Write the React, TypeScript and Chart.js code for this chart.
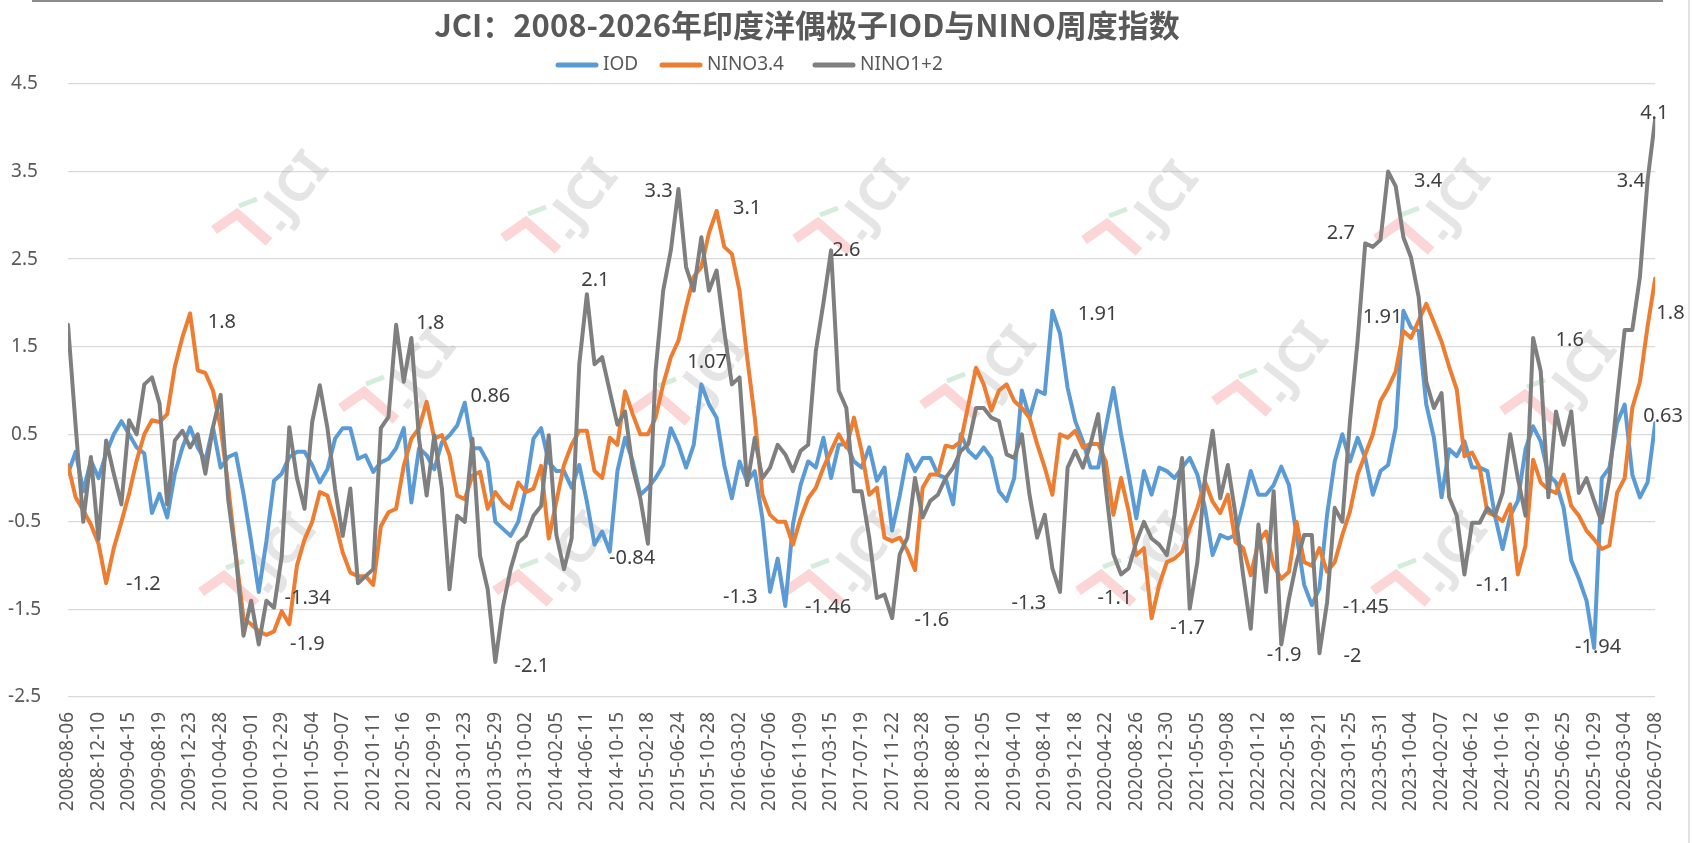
import React, { useEffect, useRef } from 'react';
import Chart from 'chart.js/auto';

// x axis: one tick every 18 weeks, values sampled 4 times per tick interval
const tickLabels = [
  '2008-08-06', '2008-12-10', '2009-04-15', '2009-08-19', '2009-12-23', '2010-04-28', '2010-09-01',
  '2010-12-29', '2011-05-04', '2011-09-07', '2012-01-11', '2012-05-16', '2012-09-19', '2013-01-23',
  '2013-05-29', '2013-10-02', '2014-02-05', '2014-06-11', '2014-10-15', '2015-02-18', '2015-06-24',
  '2015-10-28', '2016-03-02', '2016-07-06', '2016-11-09', '2017-03-15', '2017-07-19', '2017-11-22',
  '2018-03-28', '2018-08-01', '2018-12-05', '2019-04-10', '2019-08-14', '2019-12-18', '2020-04-22',
  '2020-08-26', '2020-12-30', '2021-05-05', '2021-09-08', '2022-01-12', '2022-05-18', '2022-09-21',
  '2023-01-25', '2023-05-31', '2023-10-04', '2024-02-07', '2024-06-12', '2024-10-16', '2025-02-19',
  '2025-06-25', '2025-10-29', '2026-03-04', '2026-07-08',
];
const SAMPLES_PER_TICK = 4;

const iod = [
  0.05, 0.3, -0.15, 0.2,   0.0, 0.28, 0.5, 0.65,   0.5, 0.35, 0.28, -0.4,   -0.18, -0.45, 0.05, 0.35,
  0.58, 0.35, 0.2, 0.58,   0.12, 0.24, 0.28, -0.18,   -0.72, -1.3, -0.72, -0.03,   0.05, 0.24, 0.3, 0.3,
  0.15, -0.05, 0.1, 0.45,   0.57, 0.57, 0.22, 0.26,   0.07, 0.18, 0.22, 0.34,   0.57, -0.28, 0.34, 0.26,
  0.1, 0.41, 0.49, 0.6,   0.86, 0.34, 0.34, 0.18,   -0.5, -0.58, -0.66, -0.5,   -0.12, 0.45, 0.57, 0.18,
  0.08, 0.08, -0.11, 0.15,   -0.27, -0.76, -0.61, -0.84,   0.08, 0.46, 0.19, -0.19,   -0.11, 0.0, 0.15, 0.57,
  0.38, 0.12, 0.38, 1.07,   0.84, 0.69, 0.15, -0.23,   0.19, -0.04, 0.08, -0.46,   -1.3, -0.92, -1.46, -0.53,
  -0.08, 0.19, 0.12, 0.46,   0.0, 0.38, 0.39, 0.19,   0.12, 0.35, -0.03, 0.12,   -0.6, -0.2, 0.27, 0.08,
  0.23, 0.23, 0.04, 0.0,   -0.3, 0.5, 0.31, 0.23,   0.35, 0.23, -0.15, -0.26,   0.0, 1.0, 0.69, 1.0,
  0.96, 1.91, 1.65, 1.03,   0.65, 0.42, 0.12, 0.12,   0.58, 1.03, 0.5, 0.04,   -0.46, 0.08, -0.19, 0.12,
  0.08, 0.0, 0.12, 0.23,   0.04, -0.34, -0.88, -0.65,   -0.69, -0.65, -0.3, 0.08,   -0.19, -0.19, -0.08, 0.13,
  -0.08, -0.65, -1.22, -1.45,   -1.26, -0.42, 0.19, 0.5,   0.19, 0.46, 0.23, -0.19,   0.08, 0.15, 0.58, 1.91,
  1.72, 1.68, 0.84, 0.46,   -0.22, 0.33, 0.25, 0.42,   0.12, 0.12, 0.08, -0.43,   -0.81, -0.43, -0.26, 0.33,
  0.59, 0.42, 0.04, -0.05,   -0.34, -0.94, -1.15, -1.4,   -1.94, 0.0, 0.12, 0.63,   0.84, 0.04, -0.22, -0.05,
  0.63,
];

const nino34 = [
  0.15, -0.22, -0.37, -0.53,   -0.75, -1.2, -0.8, -0.5,   -0.18, 0.2, 0.5, 0.66,   0.64, 0.73, 1.27, 1.61,
  1.88, 1.23, 1.2, 1.0,   0.58, -0.1, -0.87, -1.6,   -1.67, -1.75, -1.79, -1.75,   -1.52, -1.67, -1.0, -0.7,
  -0.5, -0.16, -0.2, -0.5,   -0.85, -1.08, -1.12, -1.12,   -1.22, -0.55, -0.39, -0.35,   0.14, 0.45, 0.57, 0.87,
  0.45, 0.49, 0.26, -0.2,   -0.24, 0.03, 0.07, -0.35,   -0.16, -0.28, -0.35, -0.05,   -0.16, -0.12, 0.14, -0.69,
  -0.27, 0.15, 0.38, 0.54,   0.54, 0.08, 0.0, 0.46,   0.38, 0.99, 0.73, 0.5,   0.5, 0.69, 1.07, 1.38,
  1.57, 1.95, 2.3, 2.41,   2.8, 3.05, 2.64, 2.56,   2.14, 1.38, 0.69, -0.19,   -0.42, -0.5, -0.5, -0.76,
  -0.46, -0.23, -0.11, 0.12,   0.31, 0.5, 0.35, 0.69,   0.31, -0.19, -0.11, -0.68,   -0.72, -0.68, -0.83, -1.05,
  -0.11, 0.04, 0.04, 0.37,   0.35, 0.42, 0.84, 1.26,   1.07, 0.77, 1.0, 1.07,   0.88, 0.8, 0.69, 0.39,
  0.12, -0.19, 0.5, 0.46,   0.54, 0.35, 0.39, 0.39,   0.19, -0.42, 0.0, -0.38,   -0.88, -0.8, -1.6, -1.22,
  -0.96, -0.92, -0.84, -0.57,   -0.34, -0.04, -0.27, -0.4,   -0.19, -0.73, -0.8, -1.11,   -0.73, -0.61, -1.0, -1.15,
  -1.07, -0.5, -0.96, -1.0,   -0.8, -1.07, -0.96, -0.65,   -0.38, 0.04, 0.27, 0.5,   0.88, 1.03, 1.22, 1.68,
  1.6, 1.8, 1.99, 1.78,   1.56, 1.27, 1.01, 0.25,   0.29, 0.12, -0.39, -0.43,   -0.49, -0.3, -1.1, -0.77,
  0.21, -0.05, -0.13, -0.17,   0.04, -0.32, -0.43, -0.6,   -0.7, -0.81, -0.77, -0.17,   0.0, 0.8, 1.1, 1.73,
  2.28,
];

const nino12 = [
  1.75, 0.6, -0.5, 0.24,   -0.7, 0.43, 0.05, -0.3,   0.66, 0.5, 1.07, 1.15,   0.85, -0.3, 0.43, 0.54,
  0.35, 0.5, 0.05, 0.58,   0.95, -0.25, -0.9, -1.8,   -1.4, -1.9, -1.4, -1.48,   -0.9, 0.58, 0.0, -0.35,
  0.64, 1.06, 0.57, -0.12,   -0.66, -0.12, -1.2, -1.12,   -1.04, 0.57, 0.7, 1.75,   1.1, 1.6, 0.45, -0.2,
  0.49, -0.12, -1.27, -0.43,   -0.5, 0.45, -0.89, -1.27,   -2.1, -1.47, -1.04, -0.74,   -0.66, -0.43, -0.32, 0.49,
  -0.65, -1.04, -0.69, 1.3,   2.1, 1.3, 1.38, 0.99,   0.61, 0.76, 0.12, -0.23,   -0.75, 1.22, 2.14, 2.6,
  3.3, 2.41, 2.14, 2.75,   2.14, 2.37, 1.68, 1.07,   1.15, -0.08, 0.46, 0.0,   0.12, 0.38, 0.27, 0.08,
  0.31, 0.38, 1.45, 2.0,   2.6, 1.0, 0.8, -0.15,   -0.15, -0.68, -1.37, -1.33,   -1.6, -0.87, -0.68, 0.0,
  -0.45, -0.26, -0.19, 0.0,   0.12, 0.31, 0.39, 0.8,   0.8, 0.69, 0.65, 0.27,   0.23, 0.5, -0.19, -0.68,
  -0.42, -1.03, -1.3, 0.12,   0.31, 0.12, 0.39, 0.73,   -0.11, -0.87, -1.1, -1.03,   -0.73, -0.5, -0.69, -0.76,
  -0.88, -0.42, 0.23, -1.49,   -0.96, 0.0, 0.54, -0.23,   0.15, -0.42, -1.11, -1.72,   -0.53, -1.3, -0.15, -1.9,
  -1.38, -0.96, -0.65, -0.65,   -2.0, -1.42, -0.34, -0.5,   0.65, 1.57, 2.68, 2.64,   2.72, 3.5, 3.33, 2.75,
  2.52, 2.07, 1.1, 0.8,   0.97, -0.22, -0.43, -1.1,   -0.51, -0.51, -0.34, -0.43,   -0.17, 0.5, 0.0, -0.43,
  1.6, 1.22, -0.22, 0.76,   0.38, 0.76, -0.17, 0.0,   -0.26, -0.51, 0.0, 0.89,   1.69, 1.69, 2.3, 3.4,
  4.1,
];

// value labels written on the chart, anchored in axis units (tick index, value)
const valueLabels = [
  { text: '1.8', x: 5.04, y: 1.78 }, { text: '-1.2', x: 2.47, y: -1.21 },
  { text: '-1.34', x: 7.85, y: -1.37 }, { text: '-1.9', x: 7.84, y: -1.9 },
  { text: '1.8', x: 11.87, y: 1.77 }, { text: '0.86', x: 13.84, y: 0.93 },
  { text: '-2.1', x: 15.2, y: -2.15 }, { text: '2.1', x: 17.28, y: 2.26 },
  { text: '-0.84', x: 18.48, y: -0.92 }, { text: '3.3', x: 19.35, y: 3.27 },
  { text: '3.1', x: 22.25, y: 3.08 }, { text: '1.07', x: 20.94, y: 1.32 },
  { text: '-1.3', x: 22.03, y: -1.36 }, { text: '2.6', x: 25.5, y: 2.6 },
  { text: '-1.46', x: 24.9, y: -1.48 }, { text: '-1.6', x: 28.3, y: -1.62 },
  { text: '-1.3', x: 31.48, y: -1.43 }, { text: '1.91', x: 33.73, y: 1.87 },
  { text: '-1.1', x: 34.3, y: -1.37 }, { text: '-1.7', x: 36.68, y: -1.72 },
  { text: '-1.9', x: 39.84, y: -2.02 }, { text: '-2', x: 42.08, y: -2.04 },
  { text: '-1.45', x: 42.52, y: -1.47 }, { text: '2.7', x: 41.7, y: 2.79 },
  { text: '1.91', x: 43.07, y: 1.84 }, { text: '3.4', x: 44.56, y: 3.39 },
  { text: '-1.1', x: 46.7, y: -1.23 }, { text: '1.6', x: 49.2, y: 1.57 },
  { text: '-1.94', x: 50.13, y: -1.93 }, { text: '4.1', x: 51.97, y: 4.16 },
  { text: '3.4', x: 51.2, y: 3.39 }, { text: '1.8', x: 52.5, y: 1.88 },
  { text: '0.63', x: 52.26, y: 0.71 },
];

const TITLE = 'JCI：2008-2026年印度洋偶极子IOD与NINO周度指数';
const colors = { iod: '#5B9BD5', nino34: '#ED7D31', nino12: '#7F7F7F' };
const legendItems = [
  { label: 'IOD', color: colors.iod, x: 555 },
  { label: 'NINO3.4', color: colors.nino34, x: 659 },
  { label: 'NINO1+2', color: colors.nino12, x: 812 },
];
// faint watermark logos (pixel centres)
const watermarks = [
  [260, 205], [549, 213], [841, 214], [1130, 215], [1422, 214],
  [387, 383], [679, 385], [968, 380], [1260, 376], [1548, 386],
  [247, 567], [541, 566], [832, 566], [1124, 566], [1419, 566],
];

const toPoints = (arr: number[]) => arr.map((v, i) => ({ x: i / SAMPLES_PER_TICK, y: v }));

const drawMark = (ctx: CanvasRenderingContext2D, x: number, y: number) => {
  ctx.save();
  ctx.translate(x, y);
  ctx.lineJoin = 'miter';
  ctx.lineCap = 'butt';
  // pink chevron
  ctx.strokeStyle = 'rgba(245, 120, 120, 0.3)';
  ctx.lineWidth = 10;
  ctx.beginPath();
  ctx.moveTo(-46, 25);
  ctx.lineTo(-23, 9);
  ctx.lineTo(9, 37);
  ctx.stroke();
  // green bar
  ctx.strokeStyle = 'rgba(100, 185, 125, 0.28)';
  ctx.lineWidth = 5;
  ctx.beginPath();
  ctx.moveTo(-21, 1);
  ctx.lineTo(-3, -6);
  ctx.stroke();
  // grey lettering
  ctx.rotate((-52 * Math.PI) / 180);
  ctx.fillStyle = 'rgba(170, 170, 170, 0.3)';
  ctx.fillRect(-8, 26, 9, 7);
  ctx.font = 'bold 50px "Noto Sans"';
  ctx.textBaseline = 'alphabetic';
  ctx.textAlign = 'left';
  ctx.fillText('JCI', 4, 33);
  ctx.restore();
};

const decorPlugin = {
  id: 'decor',
  beforeDraw(chart: any) {
    const { ctx } = chart;
    ctx.save();
    ctx.fillStyle = '#FFFFFF';
    ctx.fillRect(0, 0, chart.width, chart.height);
    ctx.strokeStyle = '#8C8C8C';
    ctx.lineWidth = 2;
    ctx.beginPath();
    ctx.moveTo(32, 1);
    ctx.lineTo(1663, 1);
    ctx.stroke();
    ctx.strokeStyle = '#D9D9D9';
    ctx.lineWidth = 1.5;
    ctx.beginPath();
    ctx.moveTo(1689, 0);
    ctx.lineTo(1689, chart.height);
    ctx.stroke();

    ctx.fillStyle = '#595959';
    ctx.font = 'bold 31px "Noto Sans CJK SC"';
    ctx.textAlign = 'center';
    ctx.textBaseline = 'middle';
    ctx.fillText(TITLE, 807, 25);

    ctx.font = '19px "Noto Sans"';
    ctx.textAlign = 'left';
    ctx.lineWidth = 5;
    ctx.lineCap = 'round';
    legendItems.forEach((item) => {
      ctx.strokeStyle = item.color;
      ctx.beginPath();
      ctx.moveTo(item.x + 3, 65);
      ctx.lineTo(item.x + 41, 65);
      ctx.stroke();
      ctx.fillStyle = '#595959';
      ctx.fillText(item.label, item.x + 48, 65);
    });
    ctx.restore();
  },
  beforeDatasetsDraw(chart: any) {
    const { ctx, chartArea, scales } = chart;
    ctx.save();
    const y0 = scales.y.getPixelForValue(0);
    ctx.strokeStyle = '#D9D9D9';
    ctx.lineWidth = 1.3;
    ctx.beginPath();
    ctx.moveTo(chartArea.left, y0);
    ctx.lineTo(chartArea.right, y0);
    ctx.stroke();
    watermarks.forEach(([x, y]) => drawMark(ctx, x, y));
    ctx.restore();
  },
  afterDatasetsDraw(chart: any) {
    const { ctx, scales } = chart;
    ctx.save();
    ctx.fillStyle = '#404040';
    ctx.font = '20px "Noto Sans"';
    ctx.textAlign = 'center';
    ctx.textBaseline = 'middle';
    valueLabels.forEach((l) => {
      ctx.fillText(l.text, scales.x.getPixelForValue(l.x), scales.y.getPixelForValue(l.y));
    });
    ctx.restore();
  },
};

const App: React.FC = () => {
  const chartRef = useRef<HTMLCanvasElement | null>(null);
  const chartInstance = useRef<Chart | null>(null);

  useEffect(() => {
    document.body.style.margin = '0';
    if (!chartRef.current) return;
    if (chartInstance.current) chartInstance.current.destroy();

    const line = (label: string, data: number[], color: string, order: number) => ({
      label,
      data: toPoints(data),
      borderColor: color,
      backgroundColor: color,
      borderWidth: 4,
      pointRadius: 0,
      tension: 0,
      borderJoinStyle: 'round',
      borderCapStyle: 'round',
      order,
    });

    chartInstance.current = new Chart(chartRef.current, {
      type: 'line',
      data: {
        datasets: [
          line('IOD', iod, colors.iod, 2),
          line('NINO3.4', nino34, colors.nino34, 1),
          line('NINO1+2', nino12, colors.nino12, 0),
        ],
      },
      options: {
        responsive: false,
        animation: false,
        layout: { padding: { top: 84, right: 36, left: 0, bottom: 0 } },
        plugins: {
          legend: { display: false },
          title: { display: false },
          tooltip: { enabled: false },
        },
        scales: {
          x: {
            type: 'linear',
            min: 0,
            max: tickLabels.length - 1,
            grid: { display: false, drawTicks: false },
            border: { display: false },
            afterFit: (scale: any) => { scale.height = 146; },
            ticks: {
              stepSize: 1,
              autoSkip: false,
              minRotation: 90,
              maxRotation: 90,
              padding: 15,
              color: '#595959',
              font: { family: '"Noto Sans"', size: 19 },
              callback: (v: any) => tickLabels[v] ?? '',
            },
          },
          y: {
            min: -2.5,
            max: 4.5,
            grid: { color: '#D9D9D9', lineWidth: 1.3, drawTicks: false },
            border: { display: false },
            afterFit: (scale: any) => { scale.width = 68; },
            ticks: {
              stepSize: 1,
              crossAlign: 'center',
              padding: 27,
              color: '#595959',
              font: { family: '"Noto Sans"', size: 19 },
              callback: (v: any) => Number(v).toFixed(1),
            },
          },
        },
      } as any,
      plugins: [decorPlugin],
    });

    return () => {
      if (chartInstance.current) {
        chartInstance.current.destroy();
        chartInstance.current = null;
      }
    };
  }, []);

  return (
    <div style={{ width: 1693, height: 843 }}>
      <canvas ref={chartRef} width={1693} height={843} style={{ display: 'block' }} />
    </div>
  );
};

export default App;
